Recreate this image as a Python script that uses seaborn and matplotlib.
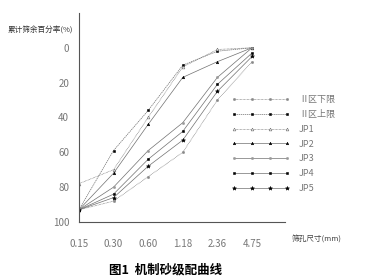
import matplotlib
matplotlib.use('Agg')
import matplotlib.pyplot as plt
import seaborn as sns
import pandas as pd

sieve_labels = ['0.15', '0.30', '0.60', '1.18', '2.36', '4.75']

# cumulative retained (%) at each sieve
zone2_upper = [93, 59, 36, 10, 2, 0]
jp1 = [78, 70, 40, 11, 1, 0]
jp2 = [93, 72, 44, 17, 8, 0]
zone2_lower = [93, 88, 74, 60, 30, 8]
jp3 = [93, 80, 59, 43, 17, 0]
jp4 = [93, 84, 64, 48, 21, 3]
jp5 = [93, 86, 68, 53, 25, 5]

series_names = ['Ⅱ区下限', 'Ⅱ区上限', 'JP1', 'JP2', 'JP3', 'JP4', 'JP5']
series_values = [zone2_lower, zone2_upper, jp1, jp2, jp3, jp4, jp5]

sns.set_style('white')
plt.rcParams['font.family'] = ['Noto Sans CJK SC', 'DejaVu Sans']

styles = {
    'Ⅱ区下限': dict(marker='o', ms=1.6, mfc='#888888', mec='#888888', ls=(0, (1, 1))),
    'Ⅱ区上限': dict(marker='s', ms=1.6, mfc='black', mec='black', ls=(0, (2, 1))),
    'JP1': dict(marker='^', ms=2.0, mfc='white', mec='#666666', ls=(0, (1, 1))),
    'JP2': dict(marker='^', ms=1.8, mfc='black', mec='black', ls='-'),
    'JP3': dict(marker='o', ms=1.6, mfc='#999999', mec='#999999', ls='-'),
    'JP4': dict(marker='s', ms=1.6, mfc='black', mec='black', ls='-'),
    'JP5': dict(marker='*', ms=3.0, mfc='black', mec='black', ls='-'),
}

fig = plt.figure(figsize=(3.72, 2.8), dpi=100)
ax = fig.add_axes([0.212, 0.207, 0.554, 0.747])

for name, vals in zip(series_names, series_values):
    df = pd.DataFrame({'pos': range(len(sieve_labels)), 'val': vals})
    st = styles[name]
    sns.lineplot(data=df, x='pos', y='val', ax=ax, color='#707070', lw=0.5,
                 marker=st['marker'], markersize=st['ms'], markerfacecolor=st['mfc'],
                 markeredgecolor=st['mec'], markeredgewidth=0.4, linestyle=st['ls'],
                 label=name, legend=False)

ax.set_xlim(0, 5.95)
ax.set_ylim(100, -20)
ax.set_xticks(range(len(sieve_labels)))
ax.set_xticklabels(sieve_labels)
ax.set_yticks([0, 20, 40, 60, 80, 100])
ax.set_xlabel('')
ax.set_ylabel('')
for side in ['top', 'right']:
    ax.spines[side].set_visible(False)
for side in ['left', 'bottom']:
    ax.spines[side].set_color('#555555')
    ax.spines[side].set_linewidth(0.8)
ax.tick_params(axis='both', direction='out', length=4, width=0.6, color='#555555',
               labelsize=7, labelcolor='#777777')
ax.tick_params(axis='x', pad=8)
ax.tick_params(axis='y', pad=3)

fig.text(0.02, 0.89, '累计筛余百分率(%)', fontsize=5.5, color='#333333', va='center')
fig.text(0.785, 0.143, '筛孔尺寸(mm)', fontsize=5.5, color='#444444', va='center')
fig.text(0.445, 0.035, '图1  机制砂级配曲线', fontsize=9, fontweight='bold',
         color='black', ha='center', va='center')

handles, labels = ax.get_legend_handles_labels()
fig.legend(handles, labels, loc='upper left', bbox_to_anchor=(0.6, 0.69), frameon=False,
           fontsize=6.5, numpoints=4, handlelength=6.5, labelspacing=0.65,
           handletextpad=1.0, labelcolor='#777777')

fig.savefig('out.png', dpi=100)
